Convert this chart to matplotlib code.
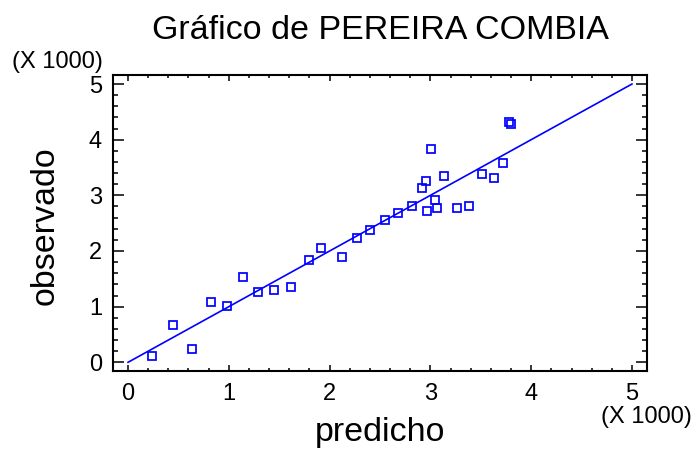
import matplotlib
matplotlib.use('Agg')
import matplotlib.pyplot as plt
from matplotlib.ticker import MultipleLocator

plt.rcParams['font.family'] = ['Liberation Sans', 'DejaVu Sans']

# valores predichos vs observados (en miles)
predicho = [0.235, 0.45, 0.635, 0.82, 0.982, 1.138, 1.287, 1.445, 1.617, 1.80,
            1.915, 2.12, 2.268, 2.404, 2.55, 2.68, 2.817, 2.917, 2.953, 2.966,
            3.003, 3.049, 3.069, 3.135, 3.267, 3.38, 3.515, 3.631, 3.717, 3.78, 3.80]
observado = [0.119, 0.665, 0.239, 1.083, 1.017, 1.538, 1.268, 1.299, 1.353, 1.838,
             2.048, 1.897, 2.233, 2.382, 2.562, 2.682, 2.802, 3.137, 3.257, 2.718,
             3.832, 2.921, 2.778, 3.347, 2.772, 2.802, 3.378, 3.317, 3.586, 4.312, 4.287]
linea = [0, 5]
ticks = [0, 1, 2, 3, 4, 5]

fig = plt.figure(figsize=(6.95, 4.5), dpi=100)
ax = fig.add_axes([113/695, 1-371/450, 534/695, 296/450])

ax.plot(linea, linea, color='#0000ff', lw=1.2, zorder=2)
ax.plot(predicho, observado, ls='none', marker='s', ms=5.8, mfc='none',
        mec='#0000ff', mew=1.25, zorder=3)

ax.set_xlim(-0.149, 5.149)
ax.set_ylim(-0.156, 5.162)
ax.set_xticks(ticks)
ax.set_yticks(ticks)
ax.xaxis.set_minor_locator(MultipleLocator(0.2))
ax.yaxis.set_minor_locator(MultipleLocator(0.2))

for s in ax.spines.values():
    s.set_linewidth(1.5)

ax.tick_params(axis='x', which='major', direction='in', length=4.3, width=1.1,
               top=True, labelsize=17, pad=9)
ax.tick_params(axis='x', which='minor', direction='in', length=2.2, width=1.1, top=True)
ax.tick_params(axis='y', which='major', direction='in', length=8, width=1.1,
               right=True, labelsize=17, pad=8)
ax.tick_params(axis='y', which='minor', direction='in', length=3.6, width=1.1, right=True)

ax.set_xlabel('predicho', fontsize=24.5)
ax.set_ylabel('observado', fontsize=24.5)
ax.xaxis.set_label_coords(0.5, -0.155)
ax.yaxis.set_label_coords(-0.099, 0.49)

fig.text(380/695, 1-39/450, 'Gráfico de PEREIRA COMBIA', fontsize=24.5,
         ha='center', va='baseline')
fig.text(57.7/695, 1-62/450, '(X 1000)', fontsize=17, ha='center', va='center')
fig.text(646/695, 1-416.7/450, '(X 1000)', fontsize=17, ha='center', va='center')

fig.savefig('out.png', dpi=100)
